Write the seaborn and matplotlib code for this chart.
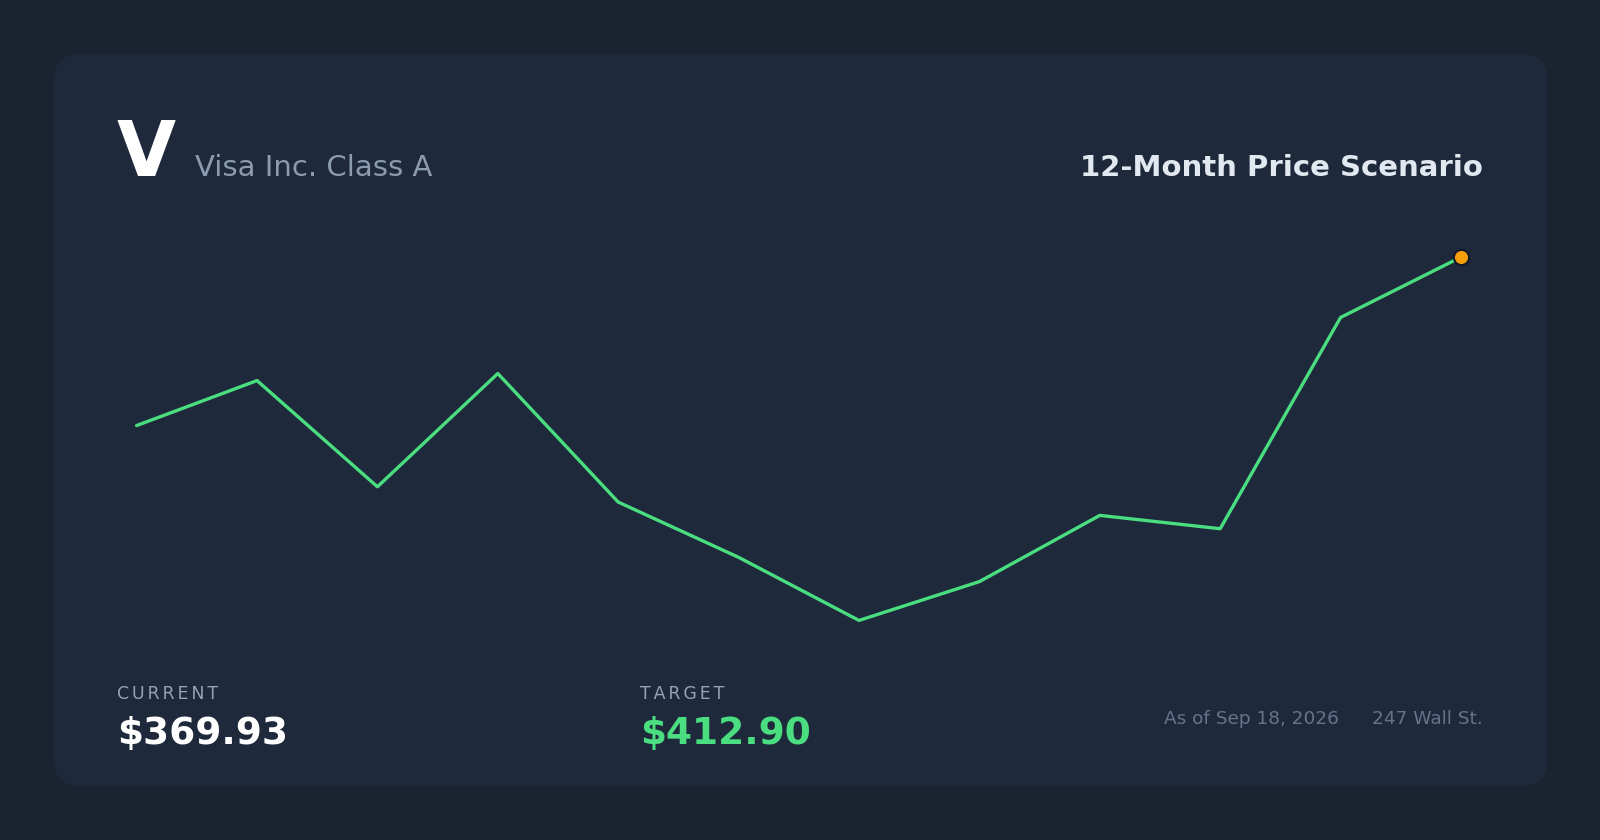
import numpy as np
import pandas as pd
import matplotlib
matplotlib.use("Agg")
import matplotlib.pyplot as plt
import seaborn as sns
from matplotlib.patches import FancyBboxPatch

# price path (first = current, last = target)
months = list(range(12))
prices = [369.93, 381.4, 354.3, 383.2, 350.4, 336.3, 320.2, 330.1, 347.0, 343.6, 397.5, 412.90]
ticker = "V"
company = "Visa Inc. Class A"
title = "12-Month Price Scenario"
current_label = "$369.93"
target_label = "$412.90"
as_of = "As of Sep 18, 2026"
source = "247 Wall St."

BG = "#1b2331"
CARD = "#1e293b"
GREEN = "#4ade80"
ORANGE = "#f59e0b"

sns.set_theme(style="dark")
plt.rcParams["font.family"] = ["DejaVu Sans"]

W, H = 1600, 840
fig = plt.figure(figsize=(16, 8.4), dpi=100, facecolor=BG)

# background axes in pixel coords for the card
bg = fig.add_axes([0, 0, 1, 1])
bg.set_xlim(0, W)
bg.set_ylim(H, 0)
bg.axis("off")
bg.add_patch(FancyBboxPatch((54, 54), 1493, 732,
                            boxstyle="round,pad=0,rounding_size=26",
                            facecolor=CARD, edgecolor="none"))

# chart axes
df = pd.DataFrame({"month": months, "price": prices})
ax = fig.add_axes([0.0854, 0.2614, 0.8277, 0.4325])
ax.set_facecolor("none")
sns.lineplot(data=df, x="month", y="price", ax=ax, color=GREEN, linewidth=2.4)
for ln in ax.lines:
    ln.set_clip_on(False)
ax.scatter([months[-1]], [prices[-1]], s=120, color=ORANGE,
           edgecolor="#111827", linewidth=1.5, zorder=5, clip_on=False)
ax.set_xlim(months[0], months[-1])
ax.set_ylim(min(prices), max(prices))
ax.axis("off")


def ty(px):
    return 1 - px / H


fig.text(117 / W, ty(176), ticker, color="white", fontsize=55,
         fontweight="bold", va="baseline", ha="left")
fig.text(195 / W, ty(175.5), company, color="#8b9bb0", fontsize=21,
         va="baseline", ha="left")
fig.text(1483 / W, ty(175.5), title, color="#e2e8f0", fontsize=21,
         fontweight="bold", va="baseline", ha="right")

spaced = lambda s: "\u2006".join(s)
fig.text(117 / W, ty(699), spaced("CURRENT"), color="#94a3b8", fontsize=12.5,
         va="baseline", ha="left")
fig.text(117 / W, ty(744), current_label, color="white", fontsize=27,
         fontweight="bold", va="baseline", ha="left")
fig.text(640 / W, ty(699), spaced("TARGET"), color="#94a3b8", fontsize=12.5,
         va="baseline", ha="left")
fig.text(640 / W, ty(744), target_label, color=GREEN, fontsize=27,
         fontweight="bold", va="baseline", ha="left")

fig.text(1339 / W, ty(724), as_of, color="#64748b", fontsize=13.3,
         va="baseline", ha="right")
fig.text(1483 / W, ty(724), source, color="#64748b", fontsize=13.3,
         va="baseline", ha="right")

fig.savefig("out.png", dpi=100, facecolor=BG)
